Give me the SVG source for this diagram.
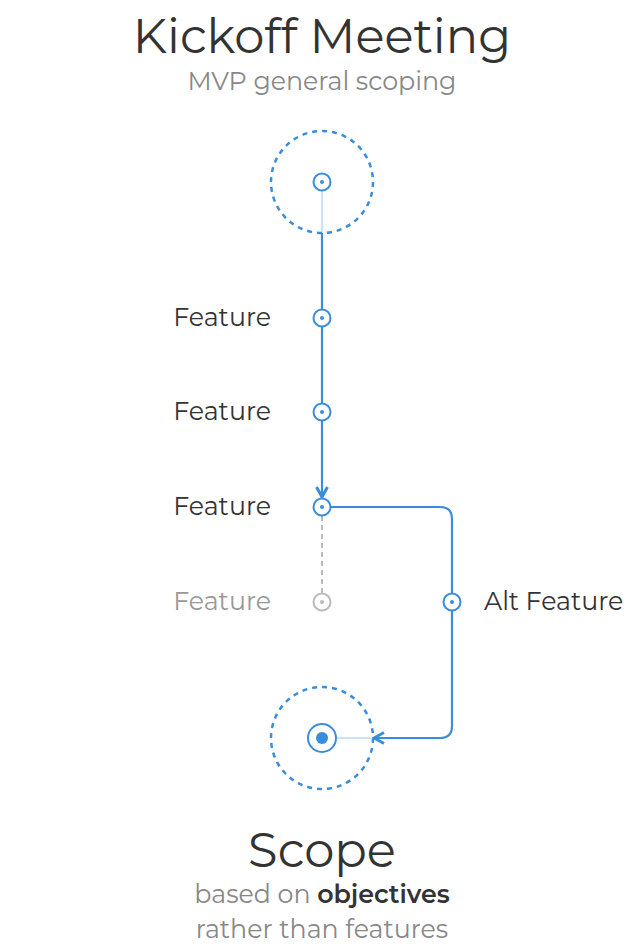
<svg xmlns="http://www.w3.org/2000/svg" width="640" height="946" viewBox="0 0 640 946">
<defs>
<style>
.t{font-family:"Montserrat","Open Sans","Liberation Sans",sans-serif;}
.title{font-size:48px;fill:#333;text-anchor:middle;}
.sub{font-size:25.3px;fill:#888;text-anchor:middle;}
.lbl{font-size:25.3px;fill:#333;}
.dim{fill:#999;}
.ring{fill:#fff;stroke:#3a8ddb;stroke-width:2;}
.dot{fill:#3a8ddb;}
.big{fill:none;stroke:#3a8ddb;stroke-width:2.5;stroke-dasharray:5 5;}
.edge{fill:none;stroke:#3a8ddb;stroke-width:2.2;}
.faint{stroke:#cfe2f5;stroke-width:2;}
</style>
<marker id="arr" viewBox="0 0 14 14" refX="12" refY="7" markerWidth="14" markerHeight="14" markerUnits="userSpaceOnUse" orient="auto">
<path d="M2,1.5 L12,7 L2,12.5" fill="none" stroke="#3a8ddb" stroke-width="3" stroke-linejoin="miter"/>
</marker>
</defs>
<rect width="640" height="946" fill="#fff"/>
<text class="t title" x="322" y="53">Kickoff Meeting</text>
<text class="t sub" x="322" y="90">MVP general scoping</text>
<g id="connectors">
<line class="faint" x1="322" y1="182" x2="322" y2="233"/>
<line class="edge" x1="322" y1="233" x2="322" y2="497" marker-end="url(#arr)"/>
<line x1="322" y1="516" x2="322" y2="593" stroke="#bbb" stroke-width="2" stroke-dasharray="5 4"/>
<path class="edge" d="M331,507 H440 Q452,507 452,519 V726 Q452,738 440,738 H374" marker-end="url(#arr)"/>
<line class="faint" x1="322" y1="738" x2="371" y2="738"/>
</g>
<g id="start">
<circle class="big" cx="322" cy="182" r="51"/>
<circle class="ring" cx="322" cy="182" r="8.5"/>
<circle class="dot" cx="322" cy="182" r="2"/>
</g>
<g id="feature1">
<circle class="ring" cx="322" cy="318" r="8.5"/>
<circle class="dot" cx="322" cy="318" r="2"/>
<text class="t lbl" x="271" y="326" text-anchor="end">Feature</text>
</g>
<g id="feature2">
<circle class="ring" cx="322" cy="412" r="8.5"/>
<circle class="dot" cx="322" cy="412" r="2"/>
<text class="t lbl" x="271" y="420" text-anchor="end">Feature</text>
</g>
<g id="feature3">
<circle class="ring" cx="322" cy="507" r="8.5"/>
<circle class="dot" cx="322" cy="507" r="2"/>
<text class="t lbl" x="271" y="515" text-anchor="end">Feature</text>
</g>
<g id="feature4">
<circle cx="322" cy="602" r="8.5" fill="#fff" stroke="#bbb" stroke-width="2"/>
<circle cx="322" cy="602" r="2" fill="#bbb"/>
<text class="t lbl dim" x="271" y="610" text-anchor="end">Feature</text>
</g>
<g id="alt">
<circle class="ring" cx="452" cy="602" r="8.5"/>
<circle class="dot" cx="452" cy="602" r="2"/>
<text class="t lbl" x="484" y="610">Alt Feature</text>
</g>
<g id="scope">
<circle class="big" cx="322" cy="738" r="51"/>
<circle class="ring" cx="322" cy="738" r="14"/>
<circle class="dot" cx="322" cy="738" r="6"/>
</g>
<text class="t title" x="322" y="867">Scope</text>
<text class="t sub" x="322" y="903">based on <tspan fill="#333" font-weight="600">objectives</tspan></text>
<text class="t sub" x="322" y="938">rather than features</text>
</svg>
